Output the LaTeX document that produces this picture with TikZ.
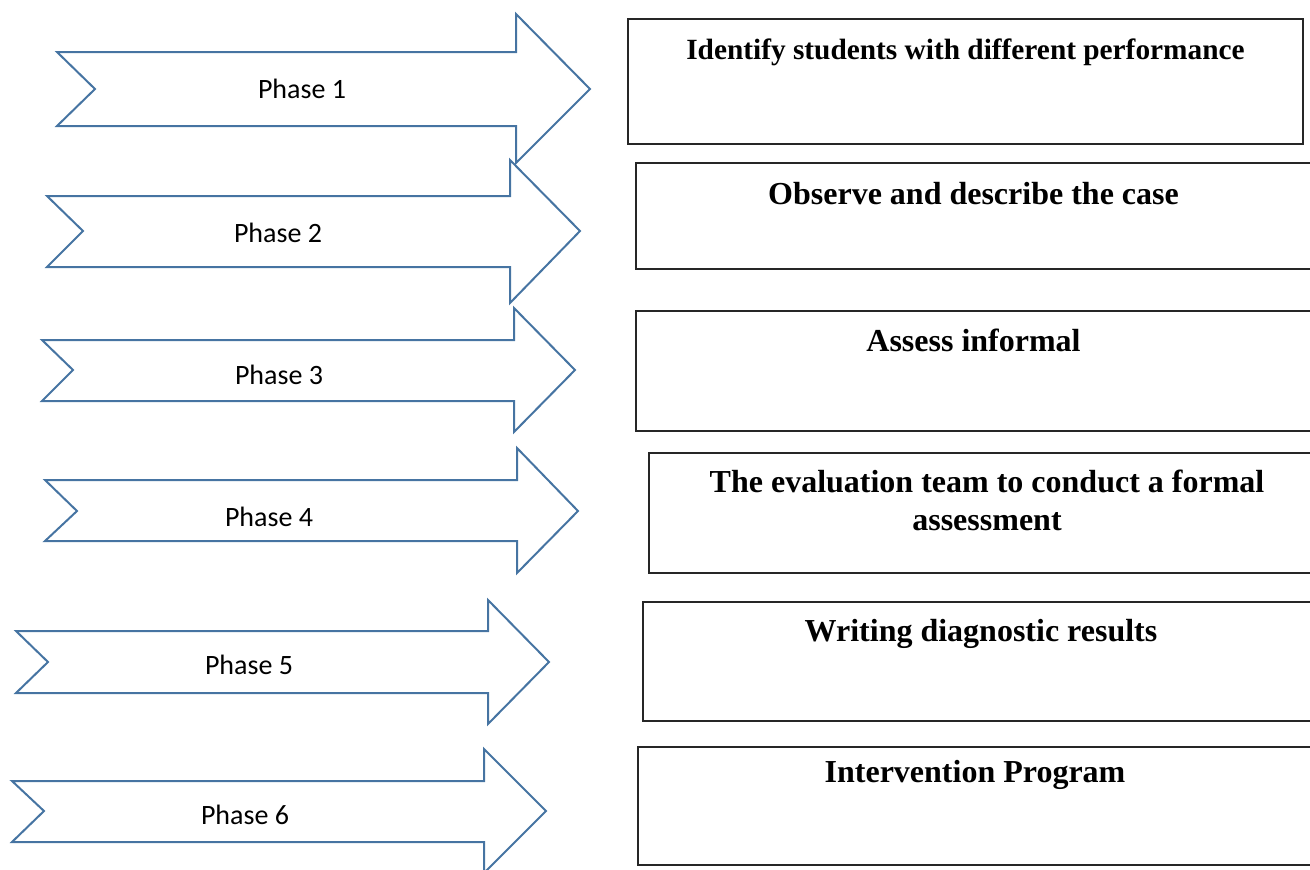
\documentclass[tikz,border=0pt]{standalone}
\usepackage{fontspec}
\setmainfont{Liberation Serif}
\newfontfamily\phasefont{Carlito}
\usetikzlibrary{positioning, fit}
\definecolor{arrowblue}{RGB}{70,116,162}
\tikzset{
	phase/.style = {draw = arrowblue, line width = 1.5pt, line join = miter},
	phaselabel/.style = {font = \phasefont\fontsize{21}{25}\selectfont, inner sep = 0pt},
	taskbox/.style = {draw = black!85, line width = 1pt, inner sep = 0pt},
	tasktext/.style = {font = \bfseries\fontsize{24}{28.5}\selectfont, align = center, inner sep = 0pt}
}

\begin{document}
\begin{tikzpicture}[x = 0.75pt, y = -0.75pt]
		\useasboundingbox (0,0) rectangle (1310,869);
		\draw[phase] (57,52) -- (516,52) -- (516,14) -- (590,89) -- (516,163) -- (516,126) -- (57,126) -- (95,89) -- cycle;
		\draw[phase] (47,196) -- (510,196) -- (510,160) -- (580,231) -- (510,303) -- (510,267) -- (47,267) -- (83,231) -- cycle;
		\draw[phase] (42,340) -- (514,340) -- (514,308) -- (575,370) -- (514,432) -- (514,401) -- (42,401) -- (73,370) -- cycle;
		\draw[phase] (45,480) -- (517,480) -- (517,448) -- (578,511) -- (517,573) -- (517,541) -- (45,541) -- (77,511) -- cycle;
		\draw[phase] (16,631) -- (488,631) -- (488,600) -- (549,662) -- (488,724) -- (488,693) -- (16,693) -- (48,662) -- cycle;
		\draw[phase] (12,781) -- (484,781) -- (484,749) -- (546,811) -- (484,873) -- (484,842) -- (12,842) -- (44,811) -- cycle;
		\node[phaselabel] (Phase1) at (302,89) {Phase 1};
		\node[phaselabel] (Phase2) at (278,233) {Phase 2};
		\node[phaselabel] (Phase3) at (279,375) {Phase 3};
		\node[phaselabel] (Phase4) at (269,517) {Phase 4};
		\node[phaselabel] (Phase5) at (249,665) {Phase 5};
		\node[phaselabel] (Phase6) at (245,815) {Phase 6};
		\node[taskbox, fit = {(628,19) (1303,144)}] (Box1) {};
		\node[taskbox, fit = {(636,163) (1311,269)}] (Box2) {};
		\node[taskbox, fit = {(636,311) (1311,431)}] (Box3) {};
		\node[taskbox, fit = {(649,453) (1325,573)}] (Box4) {};
		\node[taskbox, fit = {(643,602) (1319,721)}] (Box5) {};
		\node[taskbox, fit = {(638,747) (1312,865)}] (Box6) {};
		\node[tasktext, font = \bfseries\fontsize{22}{28.5}\selectfont, below = 15pt of Box1.north] (Task1) {Identify students with different performance};
		\node[tasktext, below = 15pt of Box2.north] (Task2) {Observe and describe the case};
		\node[tasktext, below = 14pt of Box3.north] (Task3) {Assess informal};
		\node[tasktext, below = 13pt of Box4.north] (Task4) {The evaluation team to conduct a formal\\assessment};
		\node[tasktext, below = 13pt of Box5.north] (Task5) {Writing diagnostic results};
		\node[tasktext, below = 10pt of Box6.north] (Task6) {Intervention Program};
	\end{tikzpicture}
\end{document}
